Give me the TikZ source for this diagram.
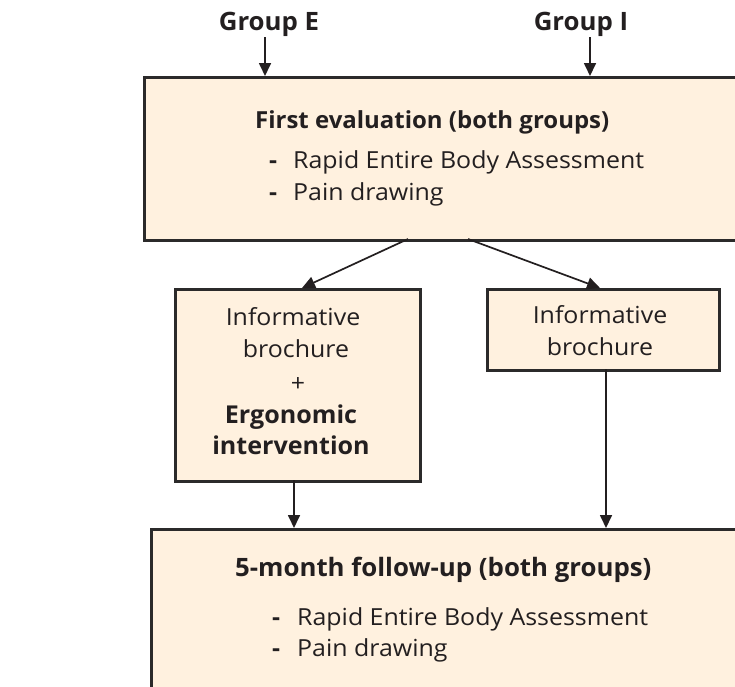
\documentclass[tikz,border=0pt]{standalone}
\usepackage{fontspec}
\setmainfont{Open Sans}[FakeStretch=1.06]
\newfontfamily\headfont{Open Sans}[FakeStretch=1.02]
\usetikzlibrary{arrows.meta}
\definecolor{boxfill}{HTML}{FFF1DF}
\definecolor{ink}{HTML}{231F20}
\definecolor{edge}{HTML}{2B2A2A}
\tikzset{
  boxshape/.style={draw=edge, line width=2.8pt, fill=boxfill, inner sep=0pt, anchor=north west},
  conn/.style={draw=ink, line width=1.7pt, -{Triangle[length=13pt,width=12pt]}},
  txt/.style={text=ink, inner sep=0pt, font=\fontsize{23.5}{30}\selectfont},
  dashtxt/.style={text=ink, inner sep=0pt, font=\fontsize{23.5}{30}\selectfont\bfseries},
  btxt/.style={text=ink, inner sep=0pt, font=\fontsize{23.5}{30}\selectfont\headfont\bfseries},
  bigbtxt/.style={text=ink, inner sep=0pt, font=\fontsize{25.3}{30}\selectfont\headfont\bfseries},
  midbtxt/.style={text=ink, inner sep=0pt, font=\fontsize{24.6}{30}\selectfont\headfont\bfseries},
}
\begin{document}
\begin{tikzpicture}[x=1pt,y=-1pt]
\useasboundingbox (0,0) rectangle (735,686);
\clip (0,0) rectangle (735,686);
% boxes
\node[boxshape, minimum width=620pt, minimum height=163pt] (top) at (143,76) {};
\node[boxshape, minimum width=245pt, minimum height=192pt] (left) at (174,288) {};
\node[boxshape, minimum width=232pt, minimum height=81pt] (right) at (486,288) {};
\node[boxshape, minimum width=620pt, minimum height=200pt] (bottom) at (150,528) {};
% group labels
\node[bigbtxt, anchor=base] (ge) at (269,30) {Group E};
\node[bigbtxt, anchor=base] (gi) at (581,30) {Group I};
% top box text
\node[btxt, anchor=base west] (t1) at (255,128) {First evaluation (both groups)};
\node[dashtxt, anchor=base west] (t2d) at (269,168) {-};
\node[txt, anchor=base west] (t2) at (293,168) {Rapid Entire Body Assessment};
\node[dashtxt, anchor=base west] (t3d) at (269,200) {-};
\node[txt, anchor=base west] (t3) at (293,200) {Pain drawing};
% left box text
\node[txt, anchor=base] (l1) at (293,325) {Informative};
\node[txt, anchor=base] (l2) at (296,357) {brochure};
\node[txt, anchor=base] (l3) at (298,391) {+};
\node[midbtxt, anchor=base] (l4) at (291,423) {Ergonomic};
\node[midbtxt, anchor=base] (l5) at (291,454) {intervention};
% right box text
\node[txt, anchor=base] (r1) at (600,323) {Informative};
\node[txt, anchor=base] (r2) at (600,355) {brochure};
% bottom box text
\node[bigbtxt, anchor=base west] (b1) at (235,576) {5-month follow-up (both groups)};
\node[dashtxt, anchor=base west] (b2d) at (272,625) {-};
\node[txt, anchor=base west] (b2) at (297,625) {Rapid Entire Body Assessment};
\node[dashtxt, anchor=base west] (b3d) at (272,656) {-};
\node[txt, anchor=base west] (b3) at (297,656) {Pain drawing};
% connector coordinates
\coordinate (geS) at (265,37);
\coordinate (giS) at (590,37);
\coordinate (topGE) at (265,76);
\coordinate (topGI) at (590,76);
\coordinate (topL) at (408,239);
\coordinate (topR) at (468,239);
\coordinate (leftN) at (302,288);
\coordinate (rightN) at (600,288);
\coordinate (leftS) at (294,480);
\coordinate (rightS) at (606,369);
\coordinate (botL) at (294,528);
\coordinate (botR) at (606,528);
% connectors
\draw[conn] (geS) -- (topGE);
\draw[conn] (giS) -- (topGI);
\draw[conn] (topL) -- (leftN);
\draw[conn] (topR) -- (rightN);
\draw[conn] (leftS) -- (botL);
\draw[conn] (rightS) -- (botR);
\end{tikzpicture}
\end{document}
